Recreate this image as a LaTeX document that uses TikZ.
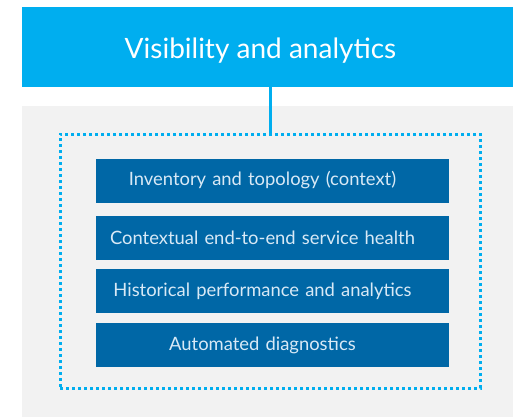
\documentclass[tikz,border=0pt]{standalone}
\usepackage{fontspec}
\setmainfont{Lato}
\usepackage{tikz}
\usetikzlibrary{backgrounds}

\definecolor{skyblue}{HTML}{00AEEF}
\definecolor{darkblue}{HTML}{0067A6}
\definecolor{lightgray}{HTML}{F2F2F2}
\definecolor{paleblue}{HTML}{D8E9F6}

\begin{document}
\begin{tikzpicture}[x=1pt,y=-1pt]
\useasboundingbox (0,0) rectangle (513,417);
\fill[lightgray] (22,106) rectangle (513,417);
\node[fill=skyblue,text=white,minimum width=491pt,minimum height=80pt,
      inner sep=0pt,text height=29pt,text depth=5pt,
      font=\fontsize{28}{32}\selectfont] (title) at (267.5,47) {Visibility and analytics\hspace*{14pt}};
\node[draw=skyblue,line width=3pt,dash pattern=on 3pt off 3pt,
      minimum width=420pt,minimum height=254pt,inner sep=0pt] (frame) at (270,261) {};

\begin{scope}[every node/.style={fill=darkblue,text=paleblue,inner sep=0pt,
              text width=353pt,minimum height=44pt,align=center,
              font=\fontsize{18.4}{21}\selectfont}]
	\node (inventory) at (272.5,180.5) {Inventory and topology (context)\hspace*{20pt}};
	\node (health) at (272.5,237.5) {Contextual end-to-end service health\hspace*{20pt}};
	\node (history) at (272.5,291) {Historical performance and analytics\hspace*{20pt}};
	\node (diagnostics) at (272.5,345) {Automated diagnostics\hspace*{20pt}};
\end{scope}

\draw[skyblue,line width=3pt] (frame.north |- title.south) -- (frame.north);
\end{tikzpicture}
\end{document}
